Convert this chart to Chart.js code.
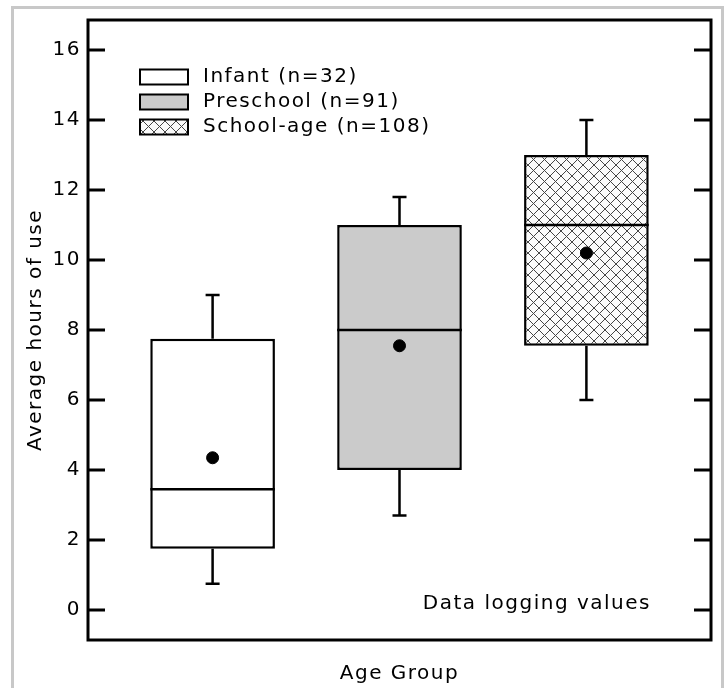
<!DOCTYPE html>
<html>
<head>
<meta charset="utf-8">
<script src="https://cdn.jsdelivr.net/npm/chart.js@4"></script>
<style>
  html, body { margin: 0; padding: 0; background: #fff; }
</style>
</head>
<body>
<canvas id="box-chart" width="726" height="688"></canvas>
<script>
const groups = ['Infant (n=32)', 'Preschool (n=91)', 'School-age (n=108)'];
const positions = [1, 2, 3];
const whiskerLow = [0.75, 2.7, 6.0];
const q1 = [1.75, 4.0, 7.55];
const medians = [3.45, 8.0, 11.0];
const q3 = [7.75, 11.0, 13.0];
const whiskerHigh = [9.0, 11.8, 14.0];
const means = [4.35, 7.55, 10.2];
const yTicks = [0, 2, 4, 6, 8, 10, 12, 14, 16];

const FONT = 'DejaVu Sans';

// cross hatch used for the school-age box
function hatchPattern(ctx) {
  const c = document.createElement('canvas');
  c.width = 11;
  c.height = 11;
  const p = c.getContext('2d');
  p.fillStyle = '#fafafa';
  p.fillRect(0, 0, 11, 11);
  p.strokeStyle = '#444';
  p.lineWidth = 1;
  p.beginPath();
  p.moveTo(-1, -1); p.lineTo(12, 12);
  p.moveTo(12, -1); p.lineTo(-1, 12);
  p.stroke();
  return ctx.createPattern(c, 'repeat');
}

const ctx = document.getElementById('box-chart').getContext('2d');
const fills = ['#ffffff', '#cbcbcb', hatchPattern(ctx)];

const boxExtras = {
  id: 'boxExtras',
  beforeDraw(chart) {
    const c = chart.ctx;
    c.save();
    c.strokeStyle = '#c8c8c8';
    c.lineWidth = 3;
    c.strokeRect(12.5, 7.5, 710, 700);
    c.restore();
    c.letterSpacing = '1.5px';
  },
  beforeDatasetsDraw(chart) {
    const { ctx: c, scales: { x, y } } = chart;
    c.save();
    c.strokeStyle = '#000';
    c.lineWidth = 2.5;
    positions.forEach((p, i) => {
      const px = x.getPixelForValue(p);
      const hi = y.getPixelForValue(whiskerHigh[i]);
      const lo = y.getPixelForValue(whiskerLow[i]);
      c.beginPath();
      c.moveTo(px, y.getPixelForValue(q3[i])); c.lineTo(px, hi);
      c.moveTo(px, y.getPixelForValue(q1[i])); c.lineTo(px, lo);
      c.moveTo(px - 7, hi); c.lineTo(px + 7, hi);
      c.moveTo(px - 7, lo); c.lineTo(px + 7, lo);
      c.stroke();
    });
    c.restore();
  },
  afterDatasetDraw(chart, args) {
    if (args.index !== 0) return;
    const c = chart.ctx;
    const y = chart.scales.y;
    c.save();
    c.strokeStyle = '#000';
    c.lineWidth = 2.5;
    args.meta.data.forEach((bar, i) => {
      const py = y.getPixelForValue(medians[i]);
      c.beginPath();
      c.moveTo(bar.x - bar.width / 2, py);
      c.lineTo(bar.x + bar.width / 2, py);
      c.stroke();
    });
    c.restore();
  },
  afterDraw(chart) {
    const { ctx: c, chartArea: a, scales: { y } } = chart;
    c.save();
    c.strokeStyle = '#000';
    c.lineWidth = 3;
    c.strokeRect(a.left, a.top, a.right - a.left, a.bottom - a.top);
    c.beginPath();
    y.ticks.forEach(t => {
      const py = y.getPixelForValue(t.value);
      c.moveTo(a.left, py); c.lineTo(a.left + 17, py);
      c.moveTo(a.right - 17, py); c.lineTo(a.right, py);
    });
    c.stroke();

    // legend
    c.font = '20px "' + FONT + '"';
    c.textBaseline = 'middle';
    c.textAlign = 'left';
    c.fillStyle = '#000';
    groups.forEach((g, i) => {
      const ry = 77 + i * 25;
      c.fillStyle = fills[i];
      c.fillRect(140, ry - 7.5, 48, 15);
      c.lineWidth = 2;
      c.strokeRect(140, ry - 7.5, 48, 15);
      c.fillStyle = '#000';
      c.fillText(g, 203, ry);
    });

    c.textAlign = 'right';
    c.fillText('Data logging values', 651, 604);
    c.restore();
  }
};

new Chart(ctx, {
  type: 'bar',
  data: {
    datasets: [{
      label: 'Interquartile range',
      data: positions.map((p, i) => ({ x: p, y: [q1[i], q3[i]] })),
      backgroundColor: fills,
      borderColor: '#000',
      borderWidth: 2.5,
      borderSkipped: false,
      categoryPercentage: 1,
      barPercentage: 0.667,
      order: 2
    }, {
      type: 'scatter',
      label: 'Mean',
      data: positions.map((p, i) => ({ x: p, y: means[i] })),
      pointRadius: 6,
      backgroundColor: '#000',
      borderColor: '#000',
      order: 1
    }]
  },
  options: {
    responsive: false,
    animation: false,
    layout: { padding: { left: 0, right: 15, top: 20, bottom: 0 } },
    plugins: {
      legend: { display: false },
      tooltip: { enabled: false }
    },
    scales: {
      x: {
        type: 'linear',
        offset: false,
        min: 1 / 3,
        max: 11 / 3,
        afterBuildTicks: s => { s.ticks = positions.map(v => ({ value: v })); },
        afterFit: s => { s.height = 48; },
        ticks: { display: false },
        grid: { display: false, drawTicks: false },
        border: { display: false },
        title: {
          display: true,
          text: 'Age Group',
          color: '#000',
          font: { family: FONT, size: 20 },
          padding: { top: 0, bottom: 2 }
        }
      },
      y: {
        min: -0.857,
        max: 16.857,
        afterBuildTicks: s => { s.ticks = yTicks.map(v => ({ value: v })); },
        afterFit: s => { s.width = 88; },
        ticks: { color: '#000', padding: 7, font: { family: FONT, size: 20 } },
        grid: { display: false, drawTicks: false },
        border: { display: false },
        title: {
          display: true,
          text: 'Average hours of use',
          color: '#000',
          font: { family: FONT, size: 20 },
          padding: { top: 24, bottom: 0 }
        }
      }
    }
  },
  plugins: [boxExtras]
});
</script>
</body>
</html>
